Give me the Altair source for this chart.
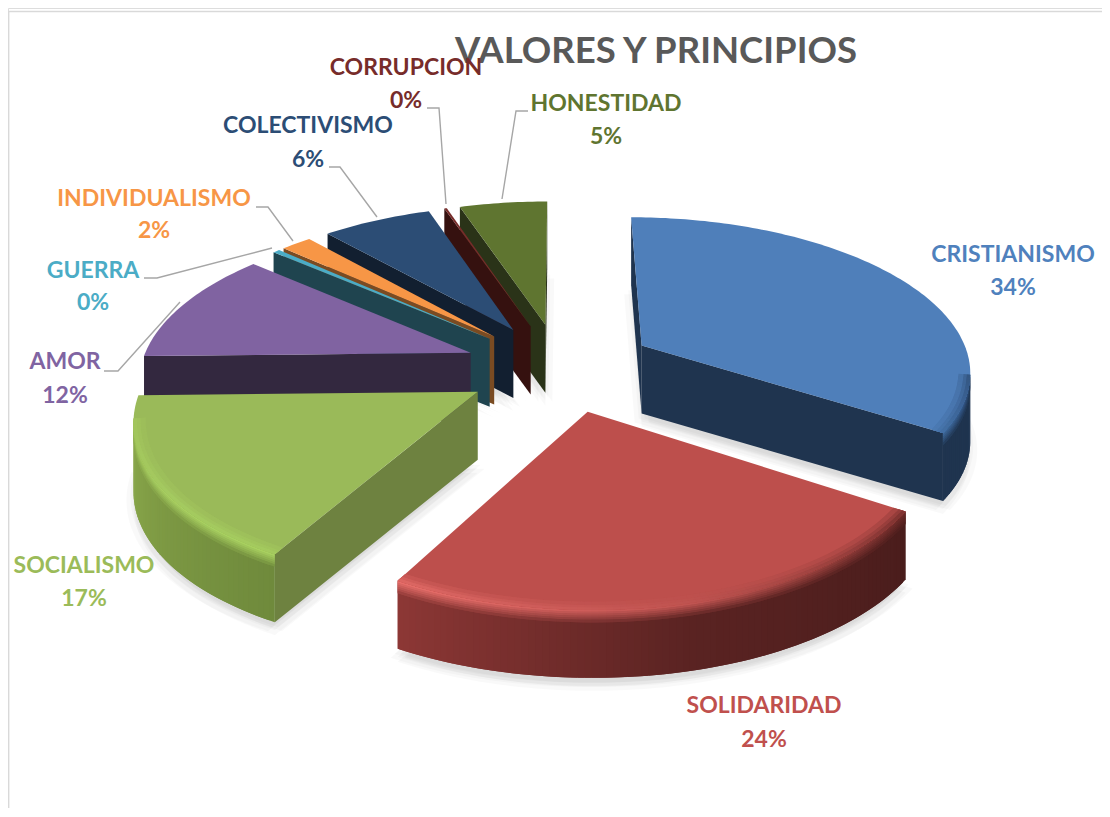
import math
import altair as alt
import pandas as pd

# ---- chart values
categories = ["CRISTIANISMO", "SOLIDARIDAD", "SOCIALISMO", "AMOR", "GUERRA",
              "INDIVIDUALISMO", "COLECTIVISMO", "CORRUPCION", "HONESTIDAD"]
values = [33.7, 23.8, 16.9, 11.9, 0.4, 1.8, 6.4, 0.15, 5.1]
pct_labels = ["34%", "24%", "17%", "12%", "0%", "2%", "6%", "0%", "5%"]

# ---- styles
top_colors = ["#4f7fba", "#bd4f4c", "#9aba59", "#8063a1", "#4bacc6", "#f79646", "#2c4d75", "#772c2a", "#5f7530"]
side_colors = ["#1f344f", "#6e2a28", "#6e8240", "#33283f", "#1f444f", "#7a4b22", "#121f30", "#35110f", "#2a3318"]
label_colors = ["#4f81bd", "#c0504d", "#9bbb59", "#8064a2", "#4bacc6", "#f79646", "#2c4d75", "#772c2a", "#5f7530"]
wall_stops = {0: ["#1f344f", "#1f344f", "#1f344f"],
              1: ["#4a1d1c", "#5a2322", "#8c3735"],
              2: ["#6f8a3c", "#7c9843", "#8aa84b"]}
rim_stops = {0: ["#2b4a70", "#35598a", "#3f6a9c"],
             1: ["#6b2a28", "#c05451", "#e66e6a"],
             2: ["#a8d060", "#a8cf62", "#a5c95e"]}
paint_order = [8, 7, 6, 5, 4, 3, 0, 2, 1]

# ---- label layout: (centre x, name y, percent y)
label_pos = [(1013, 255, 288), (764, 706, 740), (84, 566, 599), (65, 362, 396), (93, 271, 303),
             (154, 199, 231), (308, 126, 160), (406, 68, 101), (606, 104, 137)]
leaders = {"AMOR": [(104, 371), (118, 371), (180, 302)],
           "GUERRA": [(144, 278), (157, 278), (272, 248)],
           "INDIVIDUALISMO": [(256, 207), (268, 207), (293, 241)],
           "COLECTIVISMO": [(329, 167), (340, 167), (377, 217)],
           "CORRUPCION": [(427, 108), (439, 108), (446, 204)],
           "HONESTIDAD": [(528, 111), (516, 111), (502, 199)]}

# ---- perspective model of the exploded pie
CX, CY, AX, BY, K, EXPLODE, DEPTH = 560, 367, 330, 153.5, 0.15, 0.29, 68
WARP = math.radians(2.6)


def project(X, Y, drop=0.0):
    w = 1 + K * Y
    return CX + AX * X / w, CY - BY * Y / w + drop


def warp(a):
    return a + WARP * (1 - math.cos(a)) / 2


def hex2rgb(h):
    return tuple(int(h[i:i + 2], 16) for i in (1, 3, 5))


def mix(a, b, t):
    ra, rb = hex2rgb(a), hex2rgb(b)
    return "#%02x%02x%02x" % tuple(round(p + (q - p) * t) for p, q in zip(ra, rb))


def stop_color(stops, t):
    t = max(0, min(1, t))
    return mix(stops[0], stops[1], t * 2) if t < .5 else mix(stops[1], stops[2], t * 2 - 1)


total = sum(values)
slices = []
acc = 0.0
for i, v in enumerate(values):
    a0 = acc / total * 2 * math.pi
    acc += v
    a1 = acc / total * 2 * math.pi
    mid = (a0 + a1) / 2
    ox, oy = EXPLODE * math.sin(mid), EXPLODE * math.cos(mid)
    w0, w1 = warp(a0), warp(a1)
    n = max(2, int((w1 - w0) / math.radians(1)))
    angles = [w0 + (w1 - w0) * j / n for j in range(n + 1)]
    arc = [(ox + math.sin(a), oy + math.cos(a), a) for a in angles]
    slices.append(dict(i=i, a0=w0, a1=w1, ox=ox, oy=oy, arc=arc))

cam = (0, -1 / K)
rows, shadow_rows = [], []
pid = 0


def add_poly(pts, color, dest=rows):
    global pid
    pid += 1
    for s, (x, y) in enumerate(pts):
        dest.append(dict(pid=f"p{pid:05d}", s=s, x=x, y=y, c=color))


def facing(px, py, nx, ny):
    return nx * (cam[0] - px) + ny * (cam[1] - py) > 0


def wall(p, q, color, d0=0, d1=DEPTH):
    return add_poly([project(*p, d0), project(*q, d0), project(*q, d1), project(*p, d1)], color)


# ground shadows
SHADOW_OFFSETS = [(-7, 9), (7, 9), (0, 13), (-3, 5), (3, 5), (0, 8)]
for sl in slices:
    outline = [project(sl["ox"], sl["oy"], DEPTH)] + [project(a, b, DEPTH) for a, b, _ in sl["arc"]]
    for dx, dy in SHADOW_OFFSETS:
        add_poly([(x + dx, y + dy) for x, y in outline], "rgba(0,0,0,0.022)", shadow_rows)

BANDS = [(0, 2, 0.0), (2, 4, .15), (4, 6, .3), (6, 8, .45), (8, 10, .6), (10, 12, .8)]
INNER = [(.965, .25), (.98, .5), (.99, .75)]
for idx in paint_order:
    sl = slices[idx]
    apex = (sl["ox"], sl["oy"])
    arc = sl["arc"]
    first, last = arc[0], arc[-1]
    a0, a1 = sl["a0"], sl["a1"]
    # radial walls
    if facing(*apex, -math.cos(a0), math.sin(a0)):
        wall(apex, first[:2], side_colors[idx])
    if facing(*apex, math.cos(a1), -math.sin(a1)):
        wall(apex, last[:2], side_colors[idx])
    # outer curved wall: every strip runs one step under the next, so no seams show
    span = range(len(arc) - 1)
    front = [j for j in span if facing(*arc[j][:2], math.sin(arc[j][2]), math.cos(arc[j][2]))]
    tt = {j: (j - front[0]) / max(1, len(front) - 1) for j in front}
    end = lambda j: arc[min(j + 2, len(arc) - 1)]
    for j in front:
        wall(arc[j][:2], end(j)[:2], stop_color(wall_stops.get(idx, [side_colors[idx]] * 3), tt[j]))
    if idx in rim_stops:
        for d0, d1, f in BANDS:
            for j in front:
                r_c = stop_color(rim_stops[idx], tt[j])
                w_c = stop_color(wall_stops[idx], tt[j])
                wall(arc[j][:2], end(j)[:2], mix(r_c, w_c, f), d0, d1 + 0.6)
    # top surface
    add_poly([project(*apex)] + [project(a, b) for a, b, _ in arc], top_colors[idx])
    # soft inner edge of the bevel
    if idx in rim_stops:
        for r, f in INNER:
            for j in front:
                r_c = stop_color(rim_stops[idx], tt[j])
                p, q = arc[j], end(j)
                pi = (apex[0] + (p[0] - apex[0]) * r, apex[1] + (p[1] - apex[1]) * r)
                qi = (apex[0] + (q[0] - apex[0]) * r, apex[1] + (q[1] - apex[1]) * r)
                add_poly([project(*p[:2]), project(*q[:2]), project(*qi), project(*pi)], mix(top_colors[idx], r_c, f))

polys = pd.DataFrame(rows)
shadows = pd.DataFrame(shadow_rows)

text_rows = []
for name, pct, col, (lx, y1, y2) in zip(categories, pct_labels, label_colors, label_pos):
    text_rows.append(dict(t=name, x=lx, y=y1, c=col))
    text_rows.append(dict(t=pct, x=lx, y=y2, c=col))
labels = pd.DataFrame(text_rows)

leader_rows = [dict(k=k, s=s, x=x, y=y) for k, pts in leaders.items() for s, (x, y) in enumerate(pts)]
leader_df = pd.DataFrame(leader_rows)

frame = pd.DataFrame([dict(k="f", s=0, x=1102, y=11.5), dict(k="f", s=1, x=8.6, y=11.5), dict(k="f", s=2, x=8.6, y=808)])
title_df = pd.DataFrame([dict(t="VALORES Y PRINCIPIOS", x=656, y=52)])

X = alt.X("x:Q", scale=alt.Scale(domain=[8, 1102], nice=False, zero=False), axis=None)
Y = alt.Y("y:Q", scale=alt.Scale(domain=[808, 8], nice=False, zero=False), axis=None)

alt.data_transformers.disable_max_rows()
frame_layer = alt.Chart(frame).mark_line(color="#d9d9d9", strokeWidth=1.6).encode(x=X, y=Y, order="s:Q", detail="k:N")
shadow_layer = alt.Chart(shadows).mark_line(filled=True, strokeWidth=0).encode(
    x=X, y=Y, order="s:Q", detail="pid:N", color=alt.Color("c:N", scale=None))
poly_layer = alt.Chart(polys).mark_line(filled=True, strokeWidth=0).encode(
    x=X, y=Y, order="s:Q", detail="pid:N", color=alt.Color("c:N", scale=None))
leader_layer = alt.Chart(leader_df).mark_line(color="#a6a6a6", strokeWidth=1.4).encode(
    x=X, y=Y, order="s:Q", detail="k:N")
label_layer = alt.Chart(labels).mark_text(font="Lato", fontWeight="bold", fontSize=23).encode(
    x=X, y=Y, text="t:N", color=alt.Color("c:N", scale=None))
title_layer = alt.Chart(title_df).mark_text(font="Lato", fontWeight="bold", fontSize=36.5, color="#595959").encode(
    x=X, y=Y, text="t:N")

chart = alt.layer(frame_layer, shadow_layer, poly_layer, leader_layer, title_layer, label_layer).properties(
    width=1094, height=800, padding=0, autosize=alt.AutoSizeParams(type="none")
).configure_view(stroke=None).configure(background="white")

chart.save("out.html", embed_options={"renderer": "svg", "actions": False})
